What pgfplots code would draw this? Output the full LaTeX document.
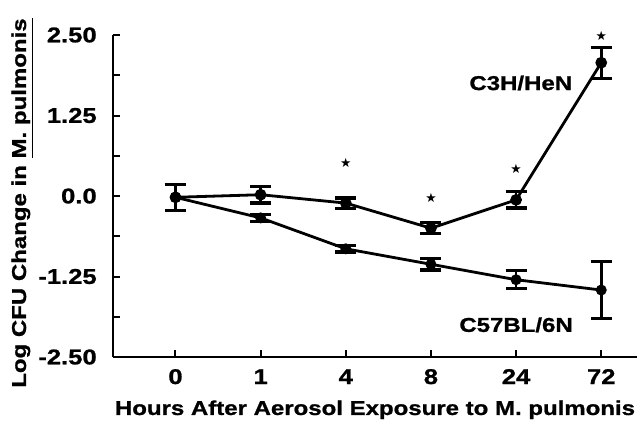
\documentclass[border=0pt]{standalone}
\usepackage{pgfplots}
\pgfplotsset{compat=1.18}
\usepackage{fontspec}
\newfontfamily\cf{Liberation Sans Bold}[FakeStretch=1.2, FakeBold=1]
\newfontfamily\symf{DejaVu Sans}
\newcommand\fs{\cf\fontsize{15}{18}\selectfont}
\newcommand\ft{\cf\fontsize{16}{19}\selectfont}
\pgfdeclareplotmark{fstar}{\pgftext{\symf\fontsize{9.5}{9.5}\selectfont ★}}
\begin{document}
\begin{tikzpicture}
\begin{axis}[
 scale only axis, width=393pt, height=241.5pt,
 xmin=-0.734, xmax=5.42, ymin=-2.5, ymax=2.5,
 axis lines*=left, axis line style={line width=1.6pt},
 tick align=inside, tick style={line width=1.5pt, black},
 major tick length=5.5pt, minor tick length=5pt,
 xtick={0,...,5}, xticklabels={0,1,4,8,24,72},
 ytick={-2.5,-1.25,0,1.25,2.5}, yticklabels={-2.50,-1.25,0.0,1.25,2.50},
 minor ytick={-1.875,-0.625,0.625,1.875},
 xticklabel style={font=\ft, anchor=base, yshift=-20.25pt, inner sep=0pt},
 yticklabel style={font=\ft, anchor=east, xshift=-12pt, inner sep=0pt},
 clip=false,
]
% C3H/HeN
\addplot[black, line width=2.1pt, mark=*, mark size=3.3pt,
  error bars/.cd, y dir=both, y explicit,
  error mark options={rotate=90, mark size=7.9pt, line width=2.4pt},
  error bar style={line width=2.1pt}]
 coordinates {
 (0,-0.02) +- (0,0.20)
 (1,0.02) +- (0,0.13)
 (2,-0.11) +- (0,0.08)
 (3,-0.50) +- (0,0.085)
 (4,-0.06) +- (0,0.125)
 (5,2.07) +- (0,0.24)
 };
% C57BL/6N
\addplot[black, line width=2.1pt, mark=*, mark size=3.0pt,
  error bars/.cd, y dir=both, y explicit,
  error mark options={rotate=90, mark size=7.9pt, line width=2.4pt},
  error bar style={line width=2.1pt}]
 coordinates {
 (0,-0.02) +- (0,0.20)
 (1,-0.34) +- (0,0.05)
 (2,-0.82) +- (0,0.05)
 (3,-1.06) +- (0,0.09)
 (4,-1.30) +- (0,0.14)
 (5,-1.46) +- (0,0.44)
 };
% significance stars
\addplot[only marks, mark=fstar] coordinates {(2,0.51) (3,-0.03) (4,0.42) (5,2.48)};
\node[font=\fs] at (axis cs:4.055,1.755) {C3H/HeN};
\node[font=\fs] at (axis cs:4.0,-2.0) {C57BL/6N};
\node[font=\fs, anchor=base] at (rel axis cs:0.5,-0.180) {Hours After Aerosol Exposure to M. pulmonis};
\node[font=\fs, rotate=90, anchor=base] at (rel axis cs:-0.166,0.478) {Log CFU Change in \underline{M. pulmonis}};
\path (rel axis cs:-0.2156,-0.1988) rectangle (rel axis cs:1.0076,1.1087);
\end{axis}
\end{tikzpicture}
\end{document}
